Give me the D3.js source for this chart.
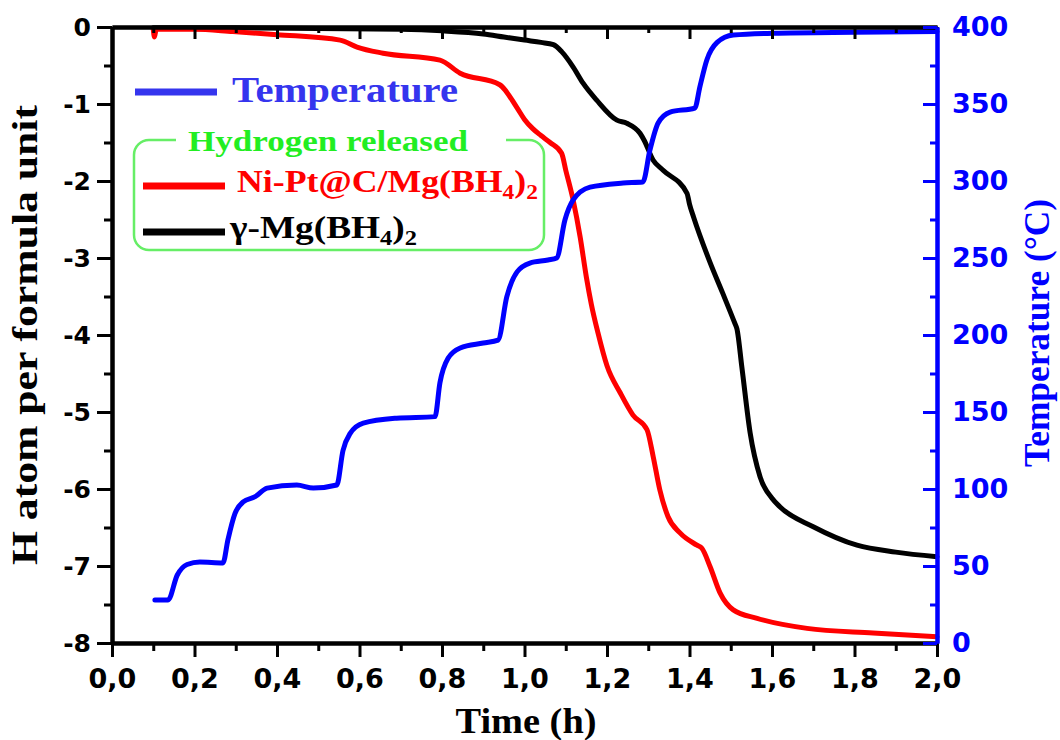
<!DOCTYPE html>
<html>
<head>
<meta charset="utf-8">
<script src="https://cdn.jsdelivr.net/npm/d3@7"></script>
<style>
  body { margin: 0; background: #fff; }
  svg { display: block; }
</style>
</head>
<body>
<script>
"use strict";
// time (h), temperature (°C)
const tempTime = [0.104,0.136,0.158,0.182,0.213,0.269,0.281,0.298,0.318,0.347,0.376,0.448,0.488,0.545,0.56,0.577,0.609,0.69,0.783,0.795,0.815,0.844,0.9,0.936,0.957,0.982,1.013,1.057,1.078,1.098,1.118,1.159,1.239,1.287,1.304,1.324,1.353,1.413,1.425,1.442,1.467,1.506,1.603,1.8,2.0];
const tempVals = [28,28,44,51,52.6,52,67,84,91.6,95,100.6,102.6,100.6,102.6,125,136,142.8,146,147,169,185,191.6,194.8,196.7,224.7,241,246.7,248.7,250,274.7,287.7,296,298.7,299.4,320,337.7,344.8,347.4,361,378.6,390,394.8,396,396.6,397];

// Ni-Pt@C/Mg(BH4)2
const niptTime = [0.1,0.103,0.107,0.2,0.293,0.4,0.553,0.594,0.657,0.795,0.844,0.94,0.982,1.0,1.02,1.04,1.062,1.09,1.1,1.118,1.135,1.15,1.162,1.178,1.2,1.232,1.263,1.297,1.312,1.328,1.348,1.377,1.418,1.43,1.45,1.474,1.506,1.564,1.685,1.845,2.0];
const niptVals = [-0.03,-0.13,-0.03,-0.03,-0.06,-0.1,-0.17,-0.26,-0.34,-0.43,-0.6,-0.75,-1.05,-1.2,-1.32,-1.41,-1.5,-1.64,-1.86,-2.25,-2.73,-3.25,-3.6,-3.97,-4.4,-4.75,-5.04,-5.23,-5.58,-6.01,-6.36,-6.57,-6.73,-6.77,-7.01,-7.35,-7.57,-7.68,-7.81,-7.87,-7.92];

// gamma-Mg(BH4)2
const gammaTime = [0.1,0.3,0.5,0.7,0.8,0.9,0.95,1.0,1.04,1.07,1.09,1.118,1.142,1.175,1.224,1.248,1.28,1.29,1.312,1.336,1.394,1.4,1.41,1.45,1.48,1.51,1.515,1.527,1.547,1.571,1.6,1.619,1.7,1.806,1.9,2.0];
const gammaVals = [-0.01,-0.01,-0.02,-0.03,-0.05,-0.09,-0.13,-0.17,-0.2,-0.23,-0.32,-0.52,-0.73,-0.95,-1.21,-1.25,-1.38,-1.47,-1.73,-1.86,-2.16,-2.3,-2.47,-3.06,-3.45,-3.85,-3.92,-4.42,-5.27,-5.84,-6.12,-6.23,-6.49,-6.73,-6.82,-6.88];

const xTicks = [0,0.2,0.4,0.6,0.8,1.0,1.2,1.4,1.6,1.8,2.0];
const xMinor = [0.1,0.3,0.5,0.7,0.9,1.1,1.3,1.5,1.7,1.9];
const hTicks = [0,-1,-2,-3,-4,-5,-6,-7,-8];
const hMinor = [-0.5,-1.5,-2.5,-3.5,-4.5,-5.5,-6.5,-7.5];
const tTicks = [0,50,100,150,200,250,300,350,400];
const tMinor = [25,75,125,175,225,275,325,375];

const W = 1060, H = 740;
const margin = {left: 112, right: 937, top: 27, bottom: 643};
const BLUE = "#0000ff";

const svg = d3.select("body").append("svg").attr("width", W).attr("height", H);

const x = d3.scaleLinear().domain([0, 2]).range([margin.left, margin.right]);
const yH = d3.scaleLinear().domain([-8, 0]).range([margin.bottom, margin.top]);
const yT = d3.scaleLinear().domain([0, 400]).range([margin.bottom, margin.top]);

const sansFont = "'DejaVu Sans', sans-serif";
const serifFont = "'Liberation Serif', 'Times New Roman', serif";

// curves
function drawSeries(ts, vs, yScale, color) {
  const pts = ts.map((t, i) => [t, vs[i]]);
  const line = d3.line()
    .x(d => x(d[0]))
    .y(d => yScale(d[1]))
    .curve(d3.curveMonotoneX);
  svg.append("path")
    .datum(pts)
    .attr("d", line)
    .attr("fill", "none")
    .attr("stroke", color)
    .attr("stroke-width", 5)
    .attr("stroke-linejoin", "round")
    .attr("stroke-linecap", "round");
}
drawSeries(gammaTime, gammaVals, yH, "#000");
drawSeries(niptTime, niptVals, yH, "#ff0000");
drawSeries(tempTime, tempVals, yT, BLUE);

const commaFmt = d => d3.format(".1f")(d).replace(".", ",");
const plainFmt = d => String(d);

function styleAxis(g, color, fontSize) {
  g.select(".domain").attr("stroke", color).attr("stroke-width", 4);
  g.selectAll(".tick line").attr("stroke", color).attr("stroke-width", 3);
  g.selectAll(".tick text")
    .attr("fill", color)
    .style("font-family", sansFont)
    .style("font-weight", "bold")
    .style("font-size", fontSize + "px");
}

// top axis (ticks pointing in)
svg.append("g").attr("transform", `translate(0,${margin.top})`)
  .call(d3.axisBottom(x).tickValues(xMinor).tickSize(6).tickSizeOuter(0).tickFormat(""))
  .call(g => styleAxis(g, "#000", 10));
svg.append("g").attr("transform", `translate(0,${margin.top})`)
  .call(d3.axisBottom(x).tickValues(xTicks).tickSize(12).tickSizeOuter(0).tickFormat(""))
  .call(g => styleAxis(g, "#000", 10));

// bottom axis
svg.append("g").attr("transform", `translate(0,${margin.bottom})`)
  .call(d3.axisBottom(x).tickValues(xMinor).tickSize(8).tickSizeOuter(0).tickFormat(""))
  .call(g => styleAxis(g, "#000", 10));
svg.append("g").attr("transform", `translate(0,${margin.bottom})`)
  .call(d3.axisBottom(x).tickValues(xTicks).tickSize(14).tickSizeOuter(0).tickPadding(12).tickFormat(commaFmt))
  .call(g => styleAxis(g, "#000", 27));

// left axis
svg.append("g").attr("transform", `translate(${margin.left},0)`)
  .call(d3.axisLeft(yH).tickValues(hMinor).tickSize(8).tickSizeOuter(0).tickFormat(""))
  .call(g => styleAxis(g, "#000", 10));
svg.append("g").attr("transform", `translate(${margin.left},0)`)
  .call(d3.axisLeft(yH).tickValues(hTicks).tickSize(15).tickSizeOuter(0).tickPadding(6).tickFormat(plainFmt))
  .call(g => styleAxis(g, "#000", 25));

// right axis (blue, ticks pointing in)
svg.append("g").attr("transform", `translate(${margin.right},0)`)
  .call(d3.axisRight(yT).tickValues(tMinor).tickSize(-7).tickSizeOuter(0).tickFormat(""))
  .call(g => styleAxis(g, BLUE, 10));
svg.append("g").attr("transform", `translate(${margin.right},0)`)
  .call(d3.axisRight(yT).tickValues(tTicks).tickSize(-14).tickSizeOuter(0).tickPadding(15).tickFormat(plainFmt))
  .call(g => styleAxis(g, BLUE, 27));

// axis titles
svg.append("text")
  .attr("x", 526).attr("y", 733)
  .attr("text-anchor", "middle")
  .attr("textLength", 141).attr("lengthAdjust", "spacingAndGlyphs")
  .style("font-family", serifFont).style("font-weight", "bold").style("font-size", "35px")
  .text("Time (h)");

svg.append("text")
  .attr("transform", "translate(37,335) rotate(-90)")
  .attr("text-anchor", "middle")
  .attr("textLength", 460).attr("lengthAdjust", "spacingAndGlyphs")
  .style("font-family", serifFont).style("font-weight", "bold").style("font-size", "36px")
  .text("H atom per formula unit");

svg.append("text")
  .attr("transform", "translate(1049,333) rotate(-90)")
  .attr("text-anchor", "middle")
  .attr("textLength", 268).attr("lengthAdjust", "spacingAndGlyphs")
  .attr("fill", BLUE)
  .style("font-family", serifFont).style("font-weight", "bold").style("font-size", "36px")
  .text("Temperature (°C)");

// legend
const legend = svg.append("g");

legend.append("line")
  .attr("x1", 135).attr("x2", 217).attr("y1", 92).attr("y2", 92)
  .attr("stroke", "#3535ee").attr("stroke-width", 7);
legend.append("text")
  .attr("x", 232).attr("y", 102)
  .attr("fill", "#3535ee")
  .attr("textLength", 226).attr("lengthAdjust", "spacingAndGlyphs")
  .style("font-family", serifFont).style("font-weight", "bold").style("font-size", "35px")
  .text("Temperature");

legend.append("rect")
  .attr("x", 134).attr("y", 140).attr("width", 410).attr("height", 110)
  .attr("rx", 15).attr("ry", 15)
  .attr("fill", "none").attr("stroke", "#66ee66").attr("stroke-width", 2.5);
legend.append("rect")
  .attr("x", 176).attr("y", 130).attr("width", 330).attr("height", 20)
  .attr("fill", "#fff");
legend.append("text")
  .attr("x", 188).attr("y", 151)
  .attr("fill", "#22ee22")
  .attr("textLength", 280).attr("lengthAdjust", "spacingAndGlyphs")
  .style("font-family", serifFont).style("font-weight", "bold").style("font-size", "29px")
  .text("Hydrogen released");

function legendEntry(y, color, parts, textWidth, x0) {
  legend.append("line")
    .attr("x1", 143).attr("x2", 225).attr("y1", y).attr("y2", y)
    .attr("stroke", color).attr("stroke-width", 7);
  const t = legend.append("text")
    .attr("x", x0).attr("y", y + 6)
    .attr("fill", color)
    .attr("textLength", textWidth).attr("lengthAdjust", "spacingAndGlyphs")
    .style("font-family", serifFont).style("font-weight", "bold").style("font-size", "32px");
  parts.forEach(p => {
    const s = t.append("tspan").text(p.text);
    if (p.sub) s.attr("dy", 7).style("font-size", "21px");
    else if (p.back) s.attr("dy", -7);
  });
}
legendEntry(186, "#ff0000", [
  {text: "Ni-Pt@C/Mg(BH"}, {text: "4", sub: true}, {text: ")", back: true}, {text: "2", sub: true}
], 301, 237);
legendEntry(232, "#000", [
  {text: "γ-Mg(BH"}, {text: "4", sub: true}, {text: ")", back: true}, {text: "2", sub: true}
], 187, 230);
</script>
</body>
</html>
